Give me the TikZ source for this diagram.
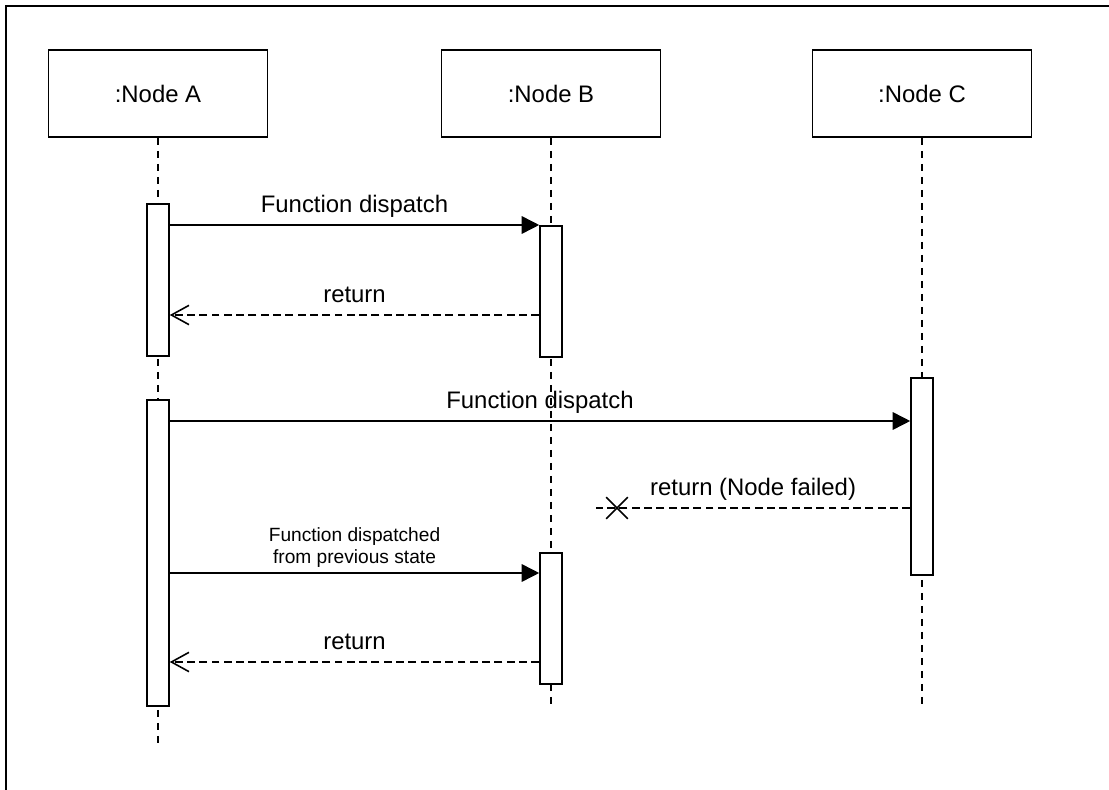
\documentclass[tikz,border=0pt]{standalone}
\usepackage{fontspec}
\setmainfont{Liberation Sans}
\usetikzlibrary{arrows.meta,shapes.misc}

\begin{document}
\begin{tikzpicture}[x=0.02cm, y=-0.02cm,
  obj/.style={draw, line width=0.9pt, minimum width=4.38cm, minimum height=1.74cm, font=\fontsize{13.6}{16}\selectfont},
  act/.style={draw, fill=white, line width=0.9pt, minimum width=0.44cm, inner sep=0pt, anchor=north},
  life/.style={line width=0.9pt, dash pattern=on 4pt off 3.4pt},
  msg/.style={line width=0.9pt, -{Triangle[length=10pt, width=10pt]}},
  ret/.style={line width=0.9pt, dash pattern=on 4.5pt off 2.5pt, -{Straight Barb[length=10pt, width=11pt, line width=0.9pt]}},
  lbl/.style={font=\fontsize{13.6}{16}\selectfont, inner sep=0pt, anchor=base, yshift=0.26cm},
  sml/.style={font=\fontsize{10.9}{12.6}\selectfont, align=center, inner sep=0pt, anchor=south, yshift=0.09cm}]

  \useasboundingbox (0,0) rectangle (1109,790);
  \clip (0,0) rectangle (1109,790);

  % Frame
  \draw[line width=1.4pt] (6,6) rectangle (1140,820);

  % Objects
  \node[obj] (nodeA) at (158,93.5) {:Node A};
  \node[obj] (nodeB) at (551,93.5) {:Node B};
  \node[obj] (nodeC) at (922,93.5) {:Node C};

  % Lifelines
  \coordinate (endA) at (158,746);
  \coordinate (endB) at (551,705);
  \coordinate (endC) at (922,705);
  \draw[life] (nodeA.south) -- (endA);
  \draw[life] (nodeB.south) -- (endB);
  \draw[life] (nodeC.south) -- (endC);

  % Activation bars
  \node[act, minimum height=3.04cm] (actA1) at (158,203) {};
  \node[act, minimum height=2.62cm] (actB1) at (551,225) {};
  \node[act, minimum height=6.12cm] (actA2) at (158,399) {};
  \node[act, minimum height=3.94cm] (actC) at (922,377) {};
  \node[act, minimum height=2.62cm] (actB2) at (551,552) {};

  % Message heights
  \coordinate (r1) at (0,315);
  \coordinate (m2) at (0,421);
  \coordinate (f1) at (0,508);
  \coordinate (m3) at (0,573);
  \coordinate (r2) at (0,662);

  % First call A -> B
  \draw[msg] (actA1.east |- actB1.north) -- (actB1.north west)
    node[lbl, midway] {Function dispatch};
  \draw[ret] (actB1.west |- r1) -- (actA1.east |- r1)
    node[lbl, midway] {return};

  % Call A -> C, C fails
  \draw[msg] (actA2.east |- m2) -- (actC.west |- m2)
    node[lbl, midway] {Function dispatch};
  \node[cross out, draw, line width=0.9pt, minimum size=0.4cm, inner sep=0pt] (xmark) at (617,508) {};
  \coordinate (lost) at (596,508);
  \draw[line width=0.9pt, dash pattern=on 4.5pt off 2.5pt] (actC.west |- f1) -- (lost)
    node[lbl, midway] {return (Node failed)};

  % Retry A -> B
  \draw[msg] (actA2.east |- m3) -- (actB2.west |- m3)
    node[sml, midway] {Function dispatched\\from previous state};
  \draw[ret] (actB2.west |- r2) -- (actA2.east |- r2)
    node[lbl, midway] {return};

\end{tikzpicture}
\end{document}
